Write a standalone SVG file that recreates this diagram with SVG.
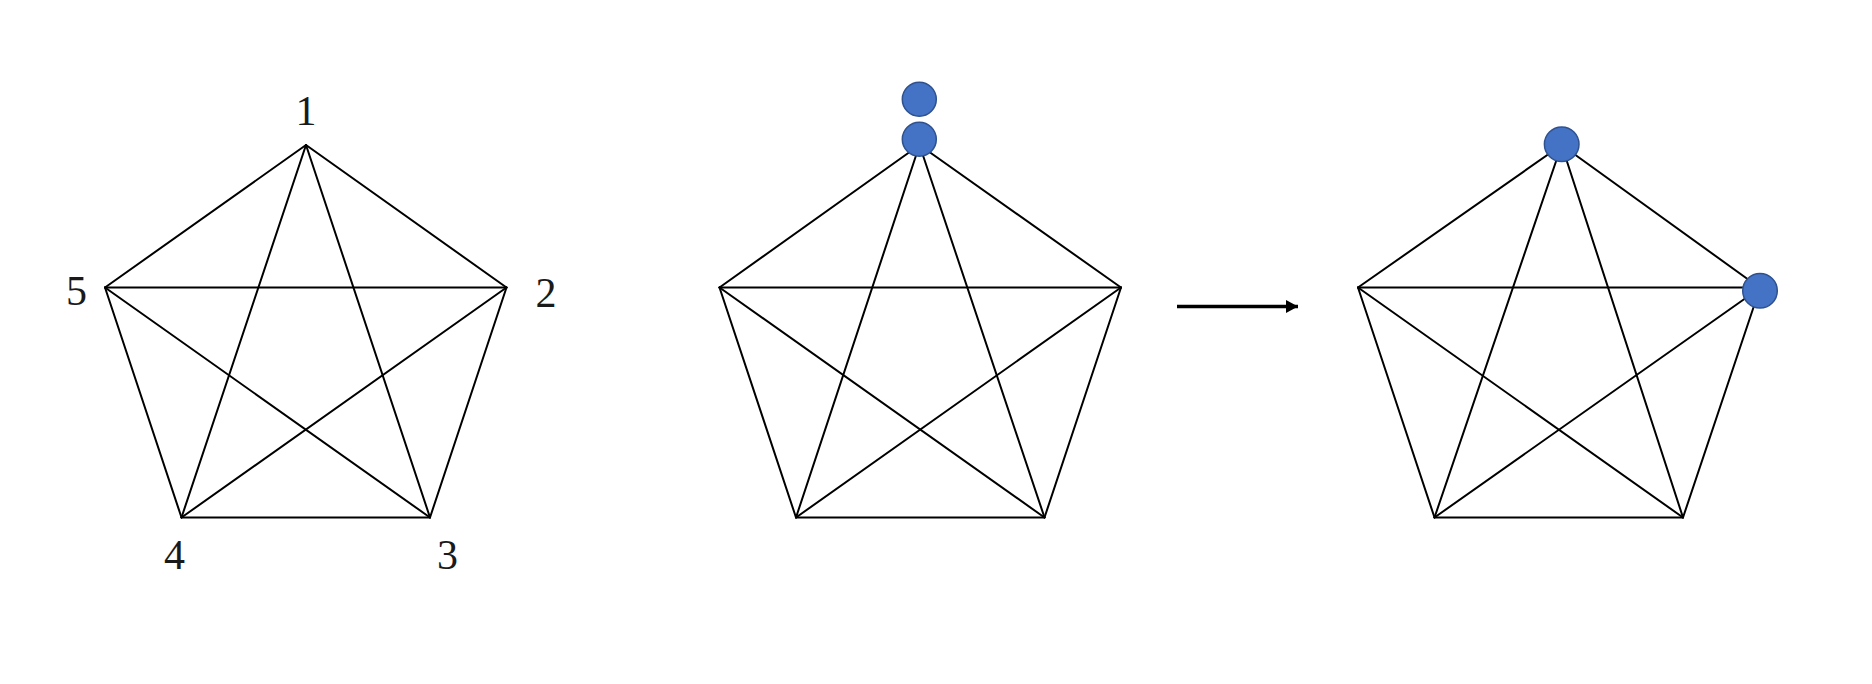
<svg xmlns="http://www.w3.org/2000/svg" width="1872" height="684" viewBox="0 0 1872 684">
<defs>
<style>
.e{stroke:#000;stroke-width:2;fill:none;stroke-linecap:round}
.lbl{font-family:"Liberation Serif","DejaVu Serif",serif;font-size:42px;fill:#1a1a1a;text-anchor:middle}
.tok{fill:#4472C4;stroke:#2F528F;stroke-width:1.5}
</style>
<marker id="ah" viewBox="0 0 12 13" refX="12" refY="6.5" markerWidth="12" markerHeight="13" markerUnits="userSpaceOnUse" orient="auto">
<path d="M0,0 L12,6.5 L0,13 Z" fill="#000"/>
</marker>
</defs>
<rect width="1872" height="684" fill="#fff"/>
<g id="connectors">
<g id="left-edges">
<line class="e" x1="306" y1="145" x2="506.5" y2="287.5"/>
<line class="e" x1="306" y1="145" x2="430" y2="517.5"/>
<line class="e" x1="306" y1="145" x2="181.5" y2="517.5"/>
<line class="e" x1="306" y1="145" x2="105" y2="287.5"/>
<line class="e" x1="506.5" y1="287.5" x2="430" y2="517.5"/>
<line class="e" x1="506.5" y1="287.5" x2="181.5" y2="517.5"/>
<line class="e" x1="506.5" y1="287.5" x2="105" y2="287.5"/>
<line class="e" x1="430" y1="517.5" x2="181.5" y2="517.5"/>
<line class="e" x1="430" y1="517.5" x2="105" y2="287.5"/>
<line class="e" x1="181.5" y1="517.5" x2="105" y2="287.5"/>
</g>
<g id="middle-edges">
<line class="e" x1="919.5" y1="145" x2="1121" y2="287.5"/>
<line class="e" x1="919.5" y1="145" x2="1044.5" y2="517.5"/>
<line class="e" x1="919.5" y1="145" x2="796" y2="517.5"/>
<line class="e" x1="919.5" y1="145" x2="719.5" y2="287.5"/>
<line class="e" x1="1121" y1="287.5" x2="1044.5" y2="517.5"/>
<line class="e" x1="1121" y1="287.5" x2="796" y2="517.5"/>
<line class="e" x1="1121" y1="287.5" x2="719.5" y2="287.5"/>
<line class="e" x1="1044.5" y1="517.5" x2="796" y2="517.5"/>
<line class="e" x1="1044.5" y1="517.5" x2="719.5" y2="287.5"/>
<line class="e" x1="796" y1="517.5" x2="719.5" y2="287.5"/>
</g>
<g id="right-edges">
<line class="e" x1="1561.6" y1="145" x2="1760" y2="288"/>
<line class="e" x1="1561.6" y1="145" x2="1683" y2="517.5"/>
<line class="e" x1="1561.6" y1="145" x2="1434.5" y2="517.5"/>
<line class="e" x1="1561.6" y1="145" x2="1358" y2="287.5"/>
<line class="e" x1="1760" y1="288" x2="1683" y2="517.5"/>
<line class="e" x1="1760" y1="288" x2="1434.5" y2="517.5"/>
<line class="e" x1="1760" y1="287.5" x2="1358" y2="287.5"/>
<line class="e" x1="1683" y1="517.5" x2="1434.5" y2="517.5"/>
<line class="e" x1="1683" y1="517.5" x2="1358" y2="287.5"/>
<line class="e" x1="1434.5" y1="517.5" x2="1358" y2="287.5"/>
</g>
<line id="arrow" x1="1177" y1="306.5" x2="1298" y2="306.5" stroke="#000" stroke-width="3.5" marker-end="url(#ah)"/>
</g>
<g id="node-1"><text class="lbl" x="306" y="125">1</text></g>
<g id="node-2"><text class="lbl" x="546" y="307">2</text></g>
<g id="node-3"><text class="lbl" x="447.5" y="569">3</text></g>
<g id="node-4"><text class="lbl" x="174.5" y="569">4</text></g>
<g id="node-5"><text class="lbl" x="76.5" y="305">5</text></g>
<g id="token-mid-a"><circle class="tok" cx="919.3" cy="99.3" r="17"/></g>
<g id="token-mid-b"><circle class="tok" cx="919.3" cy="139.3" r="17"/></g>
<g id="token-right-a"><circle class="tok" cx="1561.7" cy="144.3" r="17.3"/></g>
<g id="token-right-b"><circle class="tok" cx="1760" cy="290.7" r="17.3"/></g>
</svg>
